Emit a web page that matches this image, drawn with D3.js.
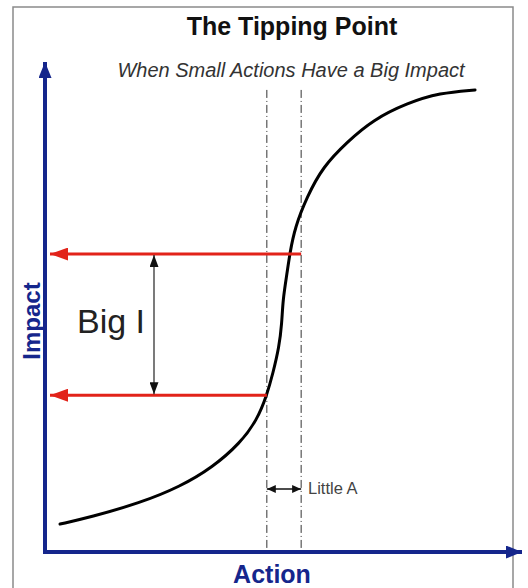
<!DOCTYPE html>
<html>
<head>
<meta charset="utf-8">
<script src="https://cdn.jsdelivr.net/npm/d3@7"></script>
<style>
  html, body { margin: 0; padding: 0; background: #fff; }
  svg { display: block; font-family: "Liberation Sans", Arial, sans-serif; }
</style>
</head>
<body>
<svg id="chart" width="528" height="588"></svg>
<script>
// S-curve of impact against action (abstract 0-100 units)
const curveAction = [3.2, 9.6, 20.2, 28.7, 35.7, 41.5, 45.1, 47.2, 48.5, 49.8, 50.4, 50.6, 51.5, 52.1, 53.2, 55.7, 59.1, 64.3, 69.8, 77.0, 84.0, 91.5];
const curveImpact = [5.7, 7.1, 10.0, 13.3, 17.3, 22.2, 26.9, 32.0, 36.5, 41.8, 46.7, 51.4, 56.9, 61.0, 66.3, 72.4, 78.6, 83.7, 88.2, 91.6, 93.7, 94.3];

// the "little A" band on the action axis and the two impact levels it maps to
const tippingActions = [47.2, 54.5];
const impactLevels = [60.8, 32.0];
const dashTop = 94.3;

const titleText = "The Tipping Point";
const subtitleText = "When Small Actions Have a Big Impact";
const xLabel = "Action";
const yLabel = "Impact";
const bigLabel = "Big I";
const littleLabel = "Little A";

const svg = d3.select("#chart");
const navy = "#15268c";
const red = "#e2231a";

const x = d3.scaleLinear().domain([0, 100]).range([45, 515]);
const y = d3.scaleLinear().domain([0, 100]).range([552, 62]);

// markers
const defs = svg.append("defs");
function marker(id, color, w, h, orient) {
  defs.append("marker")
    .attr("id", id)
    .attr("viewBox", `0 0 ${w} ${h}`)
    .attr("refX", w)
    .attr("refY", h / 2)
    .attr("markerWidth", w)
    .attr("markerHeight", h)
    .attr("markerUnits", "userSpaceOnUse")
    .attr("orient", orient)
    .append("path")
    .attr("d", `M0,0L${w},${h / 2}L0,${h}Z`)
    .attr("fill", color);
}
marker("navyHead", navy, 16, 13, "auto");
marker("redHead", red, 18, 13, "auto");
marker("blkHead", "#111", 12, 9, "auto-start-reverse");
marker("smallHead", "#111", 9, 8, "auto-start-reverse");

// frame
svg.append("rect")
  .attr("x", 13).attr("y", 7)
  .attr("width", 500).attr("height", 600)
  .attr("fill", "none")
  .attr("stroke", "#8a8a8a")
  .attr("stroke-width", 1.5);

// title
svg.append("text")
  .attr("x", 292).attr("y", 35)
  .attr("text-anchor", "middle")
  .attr("font-size", 25).attr("font-weight", "bold")
  .attr("fill", "#111")
  .text(titleText);

svg.append("text")
  .attr("x", 291).attr("y", 77)
  .attr("text-anchor", "middle")
  .attr("font-size", 20).attr("font-style", "italic")
  .attr("fill", "#333")
  .text(subtitleText);

// dashed tipping band
svg.selectAll(".band")
  .data(tippingActions)
  .join("line")
  .attr("class", "band")
  .attr("x1", (d) => x(d)).attr("x2", (d) => x(d))
  .attr("y1", y(dashTop)).attr("y2", y(0))
  .attr("stroke", "#333")
  .attr("stroke-width", 1)
  .attr("stroke-dasharray", "8,3,1,3");

// axes
svg.append("line")
  .attr("x1", x(0)).attr("y1", y(0) + 2)
  .attr("x2", x(0)).attr("y2", y(100))
  .attr("stroke", navy).attr("stroke-width", 4)
  .attr("marker-end", "url(#navyHead)");

svg.append("line")
  .attr("x1", x(0) - 2).attr("y1", y(0))
  .attr("x2", 522).attr("y2", y(0))
  .attr("stroke", navy).attr("stroke-width", 4)
  .attr("marker-end", "url(#navyHead)");

svg.append("text")
  .attr("x", 272).attr("y", 583)
  .attr("text-anchor", "middle")
  .attr("font-size", 25).attr("font-weight", "bold")
  .attr("fill", navy)
  .text(xLabel);

svg.append("text")
  .attr("transform", `translate(${x(0) - 5},321) rotate(-90)`)
  .attr("text-anchor", "middle")
  .attr("font-size", 24).attr("font-weight", "bold")
  .attr("fill", navy)
  .text(yLabel);

// S-curve
const pts = curveAction.map((a, i) => [a, curveImpact[i]]);
svg.append("path")
  .datum(pts)
  .attr("fill", "none")
  .attr("stroke", "#000")
  .attr("stroke-width", 3)
  .attr("stroke-linecap", "round")
  .attr("d", d3.line().x((d) => x(d[0])).y((d) => y(d[1])).curve(d3.curveBasis));

// red arrows from curve to impact axis
const redStarts = [tippingActions[1], tippingActions[0]];
svg.selectAll(".red")
  .data(impactLevels)
  .join("line")
  .attr("class", "red")
  .attr("x1", (d, i) => x(redStarts[i]))
  .attr("x2", x(0) + 5)
  .attr("y1", (d) => y(d)).attr("y2", (d) => y(d))
  .attr("stroke", red)
  .attr("stroke-width", 3)
  .attr("marker-end", "url(#redHead)");

// big I double arrow
svg.append("line")
  .attr("x1", 154).attr("x2", 154)
  .attr("y1", y(impactLevels[0]) + 1).attr("y2", y(impactLevels[1]) - 1)
  .attr("stroke", "#222").attr("stroke-width", 1.2)
  .attr("marker-start", "url(#blkHead)")
  .attr("marker-end", "url(#blkHead)");

svg.append("text")
  .attr("x", 77).attr("y", 333)
  .attr("font-size", 34)
  .attr("fill", "#222")
  .text(bigLabel);

// little A double arrow
svg.append("line")
  .attr("x1", x(tippingActions[0])).attr("x2", x(tippingActions[1]))
  .attr("y1", 489).attr("y2", 489)
  .attr("stroke", "#111").attr("stroke-width", 1.5)
  .attr("marker-start", "url(#smallHead)")
  .attr("marker-end", "url(#smallHead)");

svg.append("text")
  .attr("x", 308).attr("y", 494)
  .attr("font-size", 16.5)
  .attr("fill", "#444")
  .text(littleLabel);
</script>
</body>
</html>
